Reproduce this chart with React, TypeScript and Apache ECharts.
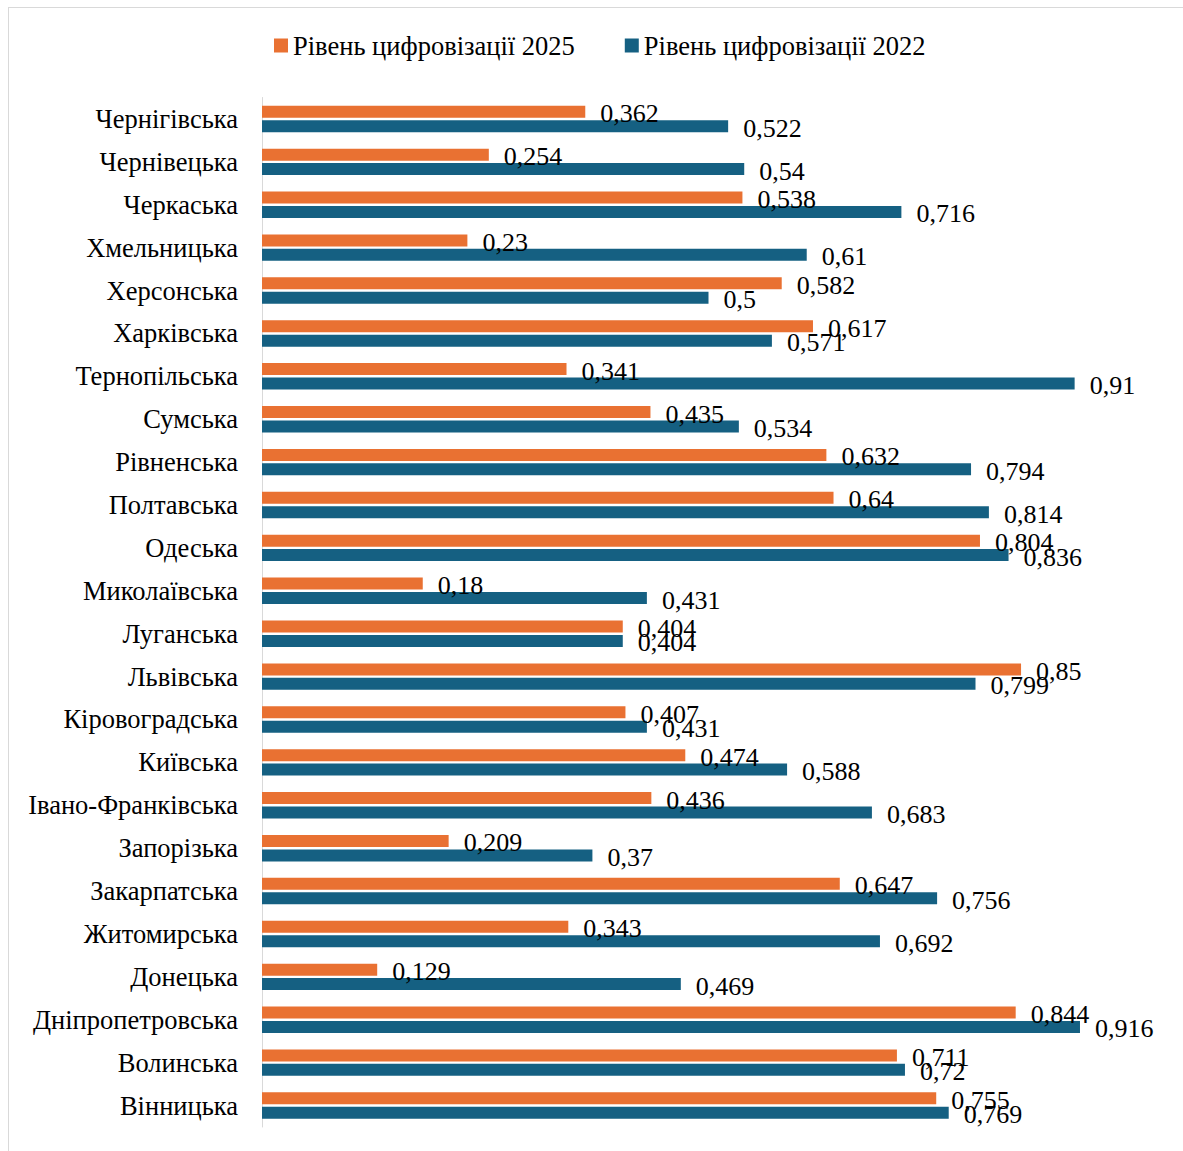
import React, { useEffect, useRef } from "react";
import * as echarts from "echarts";

// Categories listed from top of chart to bottom
const regionsTopDown = [
  "Чернігівська", "Чернівецька", "Черкаська", "Хмельницька", "Херсонська", "Харківська",
  "Тернопільська", "Сумська", "Рівненська", "Полтавська", "Одеська", "Миколаївська",
  "Луганська", "Львівська", "Кіровоградська", "Київська", "Івано-Франківська", "Запорізька",
  "Закарпатська", "Житомирська", "Донецька", "Дніпропетровська", "Волинська", "Вінницька",
];
const level2025TopDown = [
  0.362, 0.254, 0.538, 0.23, 0.582, 0.617, 0.341, 0.435, 0.632, 0.64, 0.804, 0.18,
  0.404, 0.85, 0.407, 0.474, 0.436, 0.209, 0.647, 0.343, 0.129, 0.844, 0.711, 0.755,
];
const level2022TopDown = [
  0.522, 0.54, 0.716, 0.61, 0.5, 0.571, 0.91, 0.534, 0.794, 0.814, 0.836, 0.431,
  0.404, 0.799, 0.431, 0.588, 0.683, 0.37, 0.756, 0.692, 0.469, 0.916, 0.72, 0.769,
];
const seriesNames = ["Рівень цифровізації 2025", "Рівень цифровізації 2022"];
const colors = ["#E97132", "#156082"];

export default function App() {
  const ref = useRef<HTMLDivElement>(null);
  useEffect(() => {
    if (!ref.current) return;
    const chart = echarts.init(ref.current, null, { renderer: "svg" });
    const cats = [...regionsTopDown].reverse();
    const d2025 = [...level2025TopDown].reverse();
    const d2022 = [...level2022TopDown].reverse();
    const font = "'Liberation Serif', 'Times New Roman', serif";
    const fmt = (p: any) => String(p.value).replace(".", ",");
    const labelStyle = {
      show: true, position: "right", distance: 15, offset: [0, 2],
      formatter: fmt, fontFamily: font, fontSize: 26, color: "#000",
    };
    chart.setOption({
      animation: false,
      textStyle: { fontFamily: font },
      legend: {
        data: seriesNames,
        top: 24,
        left: 265,
        padding: 0,
        icon: "rect",
        itemWidth: 14,
        itemHeight: 14,
        itemGap: 50,
        textStyle: { fontFamily: font, fontSize: 26.5, color: "#000" },
      },
      grid: { left: 253, right: 28, top: 89.5, bottom: 24, containLabel: false },
      xAxis: {
        type: "value",
        min: 0,
        max: 1,
        show: false,
      },
      yAxis: {
        type: "category",
        data: cats,
        axisLine: { lineStyle: { color: "#d9d9d9", width: 1 } },
        axisTick: { show: false },
        axisLabel: { fontFamily: font, fontSize: 26.5, color: "#000", margin: 24 },
      },
      series: [
        {
          name: seriesNames[0],
          type: "bar",
          data: d2025,
          barWidth: 12,
          barGap: "20%",
          itemStyle: { color: colors[0] },
          label: labelStyle,
        },
        {
          name: seriesNames[1],
          type: "bar",
          data: d2022,
          barWidth: 12,
          barGap: "20%",
          itemStyle: { color: colors[1] },
          label: labelStyle,
        },
      ],
    });
    return () => chart.dispose();
  }, []);
  return (
    <div
      style={{
        position: "absolute",
        left: 8,
        top: 7,
        width: 1175,
        height: 1144,
        boxSizing: "border-box",
        borderTop: "1px solid #d9d9d9",
        borderLeft: "1px solid #d9d9d9",
      }}
    >
      <div ref={ref} style={{ width: 1174, height: 1143 }} />
    </div>
  );
}
